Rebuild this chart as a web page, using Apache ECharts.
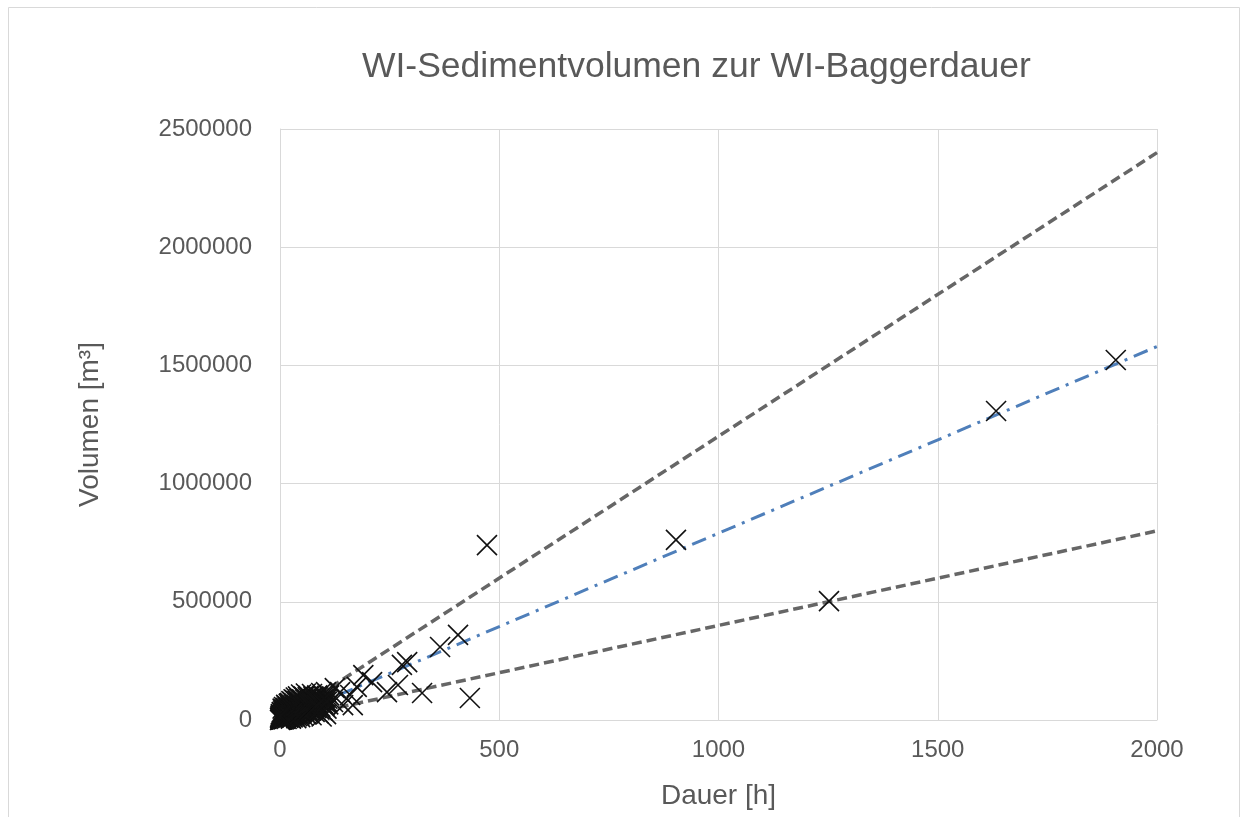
<!DOCTYPE html>
<html>
<head>
<meta charset="utf-8">
<script src="https://cdn.jsdelivr.net/npm/echarts@6/dist/echarts.min.js"></script>
<style>html,body{margin:0;padding:0;background:#fff;}#c{width:1248px;height:817px;}</style>
</head>
<body>
<div id="c"></div>
<script>
const titleText = 'WI-Sedimentvolumen zur WI-Baggerdauer';
const xName = 'Dauer [h]';
const yName = 'Volumen [m³]';
const xTicks = [0, 500, 1000, 1500, 2000];
const yTicks = [0, 500000, 1000000, 1500000, 2000000, 2500000];

// Baggerdauer [h], Sedimentvolumen [m³]
const clusterPoints = [
  [0,0],[1,2000],[2,5000],[2,12000],[3,1000],[3,20000],[4,8000],[5,3000],[5,15000],[5,30000],
  [6,6000],[7,22000],[7,40000],[8,10000],[8,2000],[9,28000],[10,15000],[10,5000],[10,45000],[11,33000],
  [12,8000],[12,20000],[13,52000],[14,12000],[14,38000],[15,25000],[15,4000],[16,60000],[17,18000],[17,44000],
  [18,30000],[19,9000],[20,50000],[20,22000],[21,70000],[22,14000],[22,36000],[23,58000],[24,27000],[25,6000],
  [25,46000],[26,80000],[27,19000],[28,62000],[28,34000],[29,11000],[30,52000],[30,28000],[31,88000],[32,42000],
  [33,16000],[33,70000],[34,56000],[35,24000],[36,95000],[36,38000],[37,8000],[38,64000],[39,48000],[40,30000],
  [40,82000],[41,100000],[42,20000],[43,58000],[44,72000],[45,40000],[46,12000],[46,90000],[47,52000],[48,108000],
  [49,30000],[50,66000],[51,45000],[52,84000],[53,18000],[54,60000],[55,98000],[56,36000],[57,75000],[58,50000],
  [59,112000],[60,24000],[61,68000],[62,88000],[63,42000],[64,58000],[65,102000],[66,30000],[67,78000],[68,52000],
  [70,92000],[71,64000],[72,20000],[73,110000],[74,46000],[75,80000],[77,58000],[78,96000],[79,34000],[80,70000],
  [82,88000],[83,50000],[85,104000],[86,62000],[88,28000],[89,78000],[91,94000],[92,56000],[94,114000],[95,70000],
  [95,15000],[97,40000],[98,86000],[100,100000],[101,60000],[103,74000],[105,118000],[105,25000],[106,48000],[108,90000],
  [110,66000],[112,104000],
  [1,8000],[2,25000],[3,14000],[4,34000],[4,2000],[6,18000],[6,48000],[7,9000],[8,32000],[9,16000],
  [9,55000],[11,24000],[11,6000],[12,42000],[13,30000],[13,10000],[14,64000],[15,48000],[16,20000],[16,35000],
  [18,12000],[18,54000],[19,40000],[19,26000],[20,68000],[21,16000],[21,44000],[23,32000],[23,72000],[24,10000],
  [24,52000],[26,22000],[26,38000],[27,60000],[29,44000],[29,76000],[31,20000],[31,56000],[32,66000],[34,32000],
  [34,84000],[35,46000],[37,60000],[37,30000],[38,78000],[39,16000],[41,54000],[42,68000],[43,36000],[44,90000],
  [45,24000],[47,74000],[48,44000],[50,88000],[50,34000],[52,56000],[53,100000],[55,44000],[56,70000],[58,86000],
  [60,58000],[62,36000],[63,96000],[65,66000],[67,48000],[69,84000],[71,40000],[73,72000],[76,100000],[78,52000],
  [81,82000],[84,64000],[87,96000],[90,44000],[93,80000],[99,68000],[102,92000],[107,78000],[0,10000],[1,18000]
];
const outlierPoints = [
  [121,76000],[125,135000],[137,118000],[144,63000],[160,106000],[166,63000],[175,140000],[190,190000],
  [210,160000],[244,118000],[269,148000],[278,233000],[290,245000],[324,114000],[365,309000],[406,360000],
  [433,93000],[472,740000],[903,762000],[1252,503000],[1633,1307000],[1906,1523000]
];
const upperLine = [[0,0],[2000,2400000]];
const meanLine = [[0,0],[2000,1580000]];
const lowerLine = [[0,0],[2000,800000]];

const chart = echarts.init(document.getElementById('c'), null, {renderer:'canvas'});
const txt = '#595959';
const fontFam = '"Liberation Sans", Arial, sans-serif';
const crossSymbol = 'path://M0,0L10,10M10,0L0,10';
chart.setOption({
  animation: false,
  backgroundColor: '#fff',
  title: {
    text: titleText, left: 357, top: 44,
    textStyle: {color: txt, fontSize: 35.5, fontWeight: 'normal', fontFamily: fontFam}
  },
  graphic: [{
    type: 'rect', shape: {x: 8.5, y: 7.5, width: 1231, height: 820},
    style: {fill: 'none', stroke: '#d9d9d9', lineWidth: 1}, silent: true
  }],
  grid: {left: 280, right: 91, top: 129, bottom: 97},
  xAxis: {
    type: 'value', min: xTicks[0], max: xTicks[xTicks.length-1], interval: 500,
    name: xName, nameLocation: 'middle', nameGap: 62,
    nameTextStyle: {color: txt, fontSize: 28, fontFamily: fontFam},
    axisLine: {show: true, lineStyle: {color: '#d9d9d9', width: 1}},
    axisTick: {show: false},
    axisLabel: {color: txt, fontSize: 24, margin: 18, fontFamily: fontFam, formatter: v => String(v)},
    splitLine: {show: true, lineStyle: {color: '#d9d9d9', width: 1}}
  },
  yAxis: {
    type: 'value', min: yTicks[0], max: yTicks[yTicks.length-1], interval: 500000,
    name: yName, nameLocation: 'middle', nameGap: 176,
    nameTextStyle: {color: txt, fontSize: 28, fontFamily: fontFam},
    axisLine: {show: true, lineStyle: {color: '#d9d9d9', width: 1}},
    axisTick: {show: false},
    axisLabel: {color: txt, fontSize: 24, margin: 28, fontFamily: fontFam, formatter: v => String(v)},
    splitLine: {show: true, lineStyle: {color: '#d9d9d9', width: 1}}
  },
  series: [
    {type: 'line', data: upperLine, symbol: 'none', z: 3,
      lineStyle: {color: '#666666', width: 3.5, type: [10, 5]}},
    {type: 'line', data: lowerLine, symbol: 'none', z: 3,
      lineStyle: {color: '#666666', width: 3.5, type: [10, 5]}},
    {type: 'line', data: meanLine, symbol: 'none', z: 3,
      lineStyle: {color: '#4f7fba', width: 3, type: [15, 7, 3, 7]}},
    {type: 'scatter', data: clusterPoints.concat(outlierPoints), symbol: crossSymbol, symbolSize: 20, z: 4,
      itemStyle: {color: 'rgba(0,0,0,0)', borderColor: '#111111', borderWidth: 1.6, opacity: 1}}
  ]
});
</script>
</body>
</html>
